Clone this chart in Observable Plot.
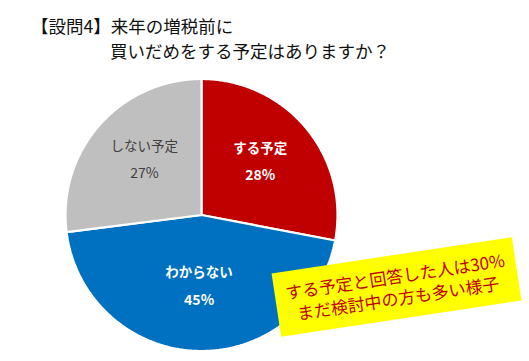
<!DOCTYPE html>
<html><head><meta charset="utf-8">
<script src="https://cdn.jsdelivr.net/npm/d3@7"></script>
<script src="https://cdn.jsdelivr.net/npm/@observablehq/plot@0.6"></script>
<style>
body{margin:0;background:#fff;font-family:"Noto Sans CJK JP","Noto Sans",sans-serif;}
#wrap{position:relative;width:529px;height:361px;overflow:hidden;}
#chart{position:absolute;left:0;top:0;}
.t{position:absolute;font-size:17.5px;color:#111;white-space:nowrap;line-height:1;}
#callout{position:absolute;left:275px;top:255px;width:243px;height:64px;background:#ffff00;
 transform:rotate(-8.6deg);display:flex;flex-direction:column;align-items:center;justify-content:center;
 color:#c00000;font-size:17px;line-height:22px;white-space:nowrap;}
</style></head>
<body><div id="wrap">
<div id="chart"></div>
<div class="t" style="left:31px;top:17px">【設問4】来年の増税前に</div>
<div class="t" style="left:110px;top:42px">買いだめをする予定はありますか？</div>
<div id="callout"><div>する予定と回答した人は30%</div><div>まだ検討中の方も多い様子</div></div>
</div>
<script>
const categories = ["する予定", "わからない", "しない予定"];
const values = [28, 45, 27];
const percentLabels = ["28%", "45%", "27%"];
const colors = ["#c00000", "#0070c0", "#bfbfbf"];
const labelColors = ["#ffffff", "#ffffff", "#404040"];
const labelWeights = ["bold", "bold", "normal"];

const cx = 201, cy = 214.5, R = 136;
const arcs = d3.pie().sort(null).startAngle(0).endAngle(2 * Math.PI)(values);

const pts = [];
arcs.forEach((a, i) => {
  pts.push({k: categories[i], x: 0, y: 0});
  const n = Math.max(2, Math.ceil((a.endAngle - a.startAngle) / (Math.PI / 360)));
  for (let j = 0; j <= n; j++) {
    const t = a.startAngle + (a.endAngle - a.startAngle) * j / n;
    pts.push({k: categories[i], x: Math.sin(t), y: Math.cos(t)});
  }
  pts.push({k: categories[i], x: 0, y: 0});
});

const labels = arcs.map((a, i) => {
  const m = (a.startAngle + a.endAngle) / 2;
  const r = 0.56;
  return {k: categories[i], pct: percentLabels[i], x: r * Math.sin(m), y: r * Math.cos(m),
          c: labelColors[i], w: labelWeights[i]};
});

const chart = Plot.plot({
  width: 529, height: 361,
  margin: 0,
  x: {domain: [-1, 1], range: [cx - R, cx + R], axis: null},
  y: {domain: [-1, 1], range: [cy + R, cy - R], axis: null},
  color: {domain: categories, range: colors},
  style: {fontFamily: '"Noto Sans CJK JP","Noto Sans",sans-serif', background: "transparent"},
  marks: [
    Plot.line(pts, {x: "x", y: "y", z: "k", fill: "k", stroke: "white", strokeWidth: 2.2, strokeLinejoin: "miter"}),
    ...[0, 1, 2].map(i => Plot.text([labels[i]], {x: "x", y: "y", text: "k", dy: -18, fill: labels[i].c,
      fontSize: 13.5, fontWeight: labels[i].w})),
    ...[0, 1, 2].map(i => Plot.text([labels[i]], {x: "x", y: "y", text: "pct", dy: 9, fill: labels[i].c,
      fontSize: 14, fontWeight: labels[i].w}))
  ]
});
document.getElementById("chart").appendChild(chart);
</script>
</body></html>
